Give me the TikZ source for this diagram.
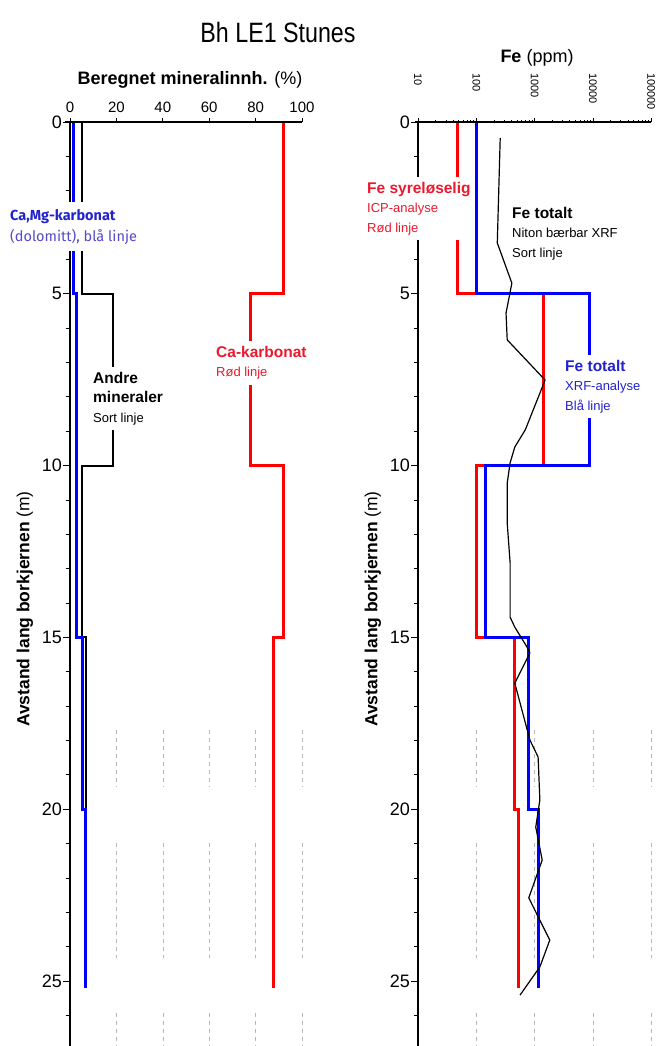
\documentclass[tikz,border=0pt]{standalone}
\usepackage{fontspec}
\setmainfont{Liberation Sans}
\newfontfamily\titlefont[FakeStretch=0.83]{Liberation Sans}
\newfontfamily\humfont{Fira Sans}
\newcommand\lblhd{\bfseries\fontsize{15.5}{19.5}\selectfont}
\definecolor{kurvred}{RGB}{255,0,0}
\definecolor{kurvblue}{RGB}{0,0,255}
\definecolor{txtred}{RGB}{235,25,45}
\definecolor{txtblue}{RGB}{35,35,205}
\definecolor{txtlblue}{RGB}{85,75,200}

\begin{document}
\begin{tikzpicture}[x=1pt,y=-1pt,
  redline/.style={kurvred,line width=3pt},
  blueline/.style={kurvblue,line width=3pt},
  blackline/.style={black,line width=2pt},
  nitonline/.style={black,line width=1.2pt,line join=round},
  axisline/.style={black,line width=1.3pt},
  gridline/.style={black!28,line width=.6pt,dash pattern=on 4pt off 4pt},
  depthlbl/.style={anchor=east,inner sep=0pt,font=\fontsize{18}{20}\selectfont},
  toplbl/.style={anchor=south,inner sep=0pt,font=\fontsize{15}{17}\selectfont},
  loglbl/.style={rotate=-90,anchor=west,inner sep=0pt,font=\fontsize{11}{13}\selectfont},
  lbl/.style={fill=white,align=left,anchor=north west,inner xsep=3pt,inner ysep=5pt,
    font=\fontsize{13}{19.5}\selectfont}
]
\useasboundingbox (0,0) rectangle (659,1046);

% venstre: mineralinnhold
\begin{scope}[shift={(70,122)},x=2.32pt,y=-34.36pt]
\foreach \p in {20,40,...,100}{
  \draw[gridline] (\p,17.7) -- (\p,19.35);
  \draw[gridline] (\p,20.98) -- (\p,24.33);
  \draw[gridline] (\p,25.93) -- (\p,26.9);
}
\draw[redline] (92,0) -- (92,5) -- (78,5) -- (78,10) -- (92,10) -- (92,15) -- (87.5,15) -- (87.5,25.2);
\draw[blackline] (5.2,0) -- (5.2,5) -- (18.5,5) -- (18.5,10) -- (5.2,10) -- (5.2,15) -- (7,15) -- (7,25.2);
\draw[blueline] (1.3,0) -- (1.3,5) -- (2.6,5) -- (2.6,15) -- (5.2,15) -- (5.2,20) -- (6.6,20) -- (6.6,25.2);
\draw[axisline] (-2,0) -- (100,0);
\draw[axisline] (0,0) -- (0,26.9);
\foreach \d in {1,...,26} \draw[line width=.8pt] (0,\d) -- ++(-4pt,0);
\foreach \d in {0,5,...,25}{
  \draw[line width=.8pt] (0,\d) -- ++(-7pt,0);
  \node[depthlbl] (vd\d) at ([xshift=-8pt]0,\d) {\d};
}
\foreach \p in {0,20,...,100}{
  \draw[line width=.8pt] (\p,0) -- ++(0,4pt);
  \node[toplbl] (vp\p) at ([yshift=9pt]\p,0) {\p};
}
\end{scope}

% hoyre: Fe (log)
\begin{scope}[shift={(418,122)},x=58.3pt,y=-34.36pt]
\foreach \e in {1,2,3,4}{
  \draw[gridline] (\e,17.7) -- (\e,19.35);
  \draw[gridline] (\e,20.98) -- (\e,24.33);
  \draw[gridline] (\e,25.93) -- (\e,26.9);
}
\draw[redline] (0.67,0) -- (0.67,5) -- (2.16,5) -- (2.16,10) -- (1,10) -- (1,15) -- (1.66,15) -- (1.66,20) -- (1.73,20) -- (1.73,25.2);
\draw[blueline] (1,0) -- (1,5) -- (2.95,5) -- (2.95,10) -- (1.15,10) -- (1.15,15) -- (1.9,15) -- (1.9,20) -- (2.06,20) -- (2.06,25.2);
\draw[nitonline] (1.41,0.47) -- (1.36,3.52) -- (1.61,4.69) -- (1.51,5.56) -- (1.53,6.34)
  -- (2.18,7.51) -- (1.84,8.96) -- (1.66,9.46) -- (1.58,9.92) -- (1.53,10.51)
  -- (1.53,11.67) -- (1.58,12.83) -- (1.58,14.41) -- (1.66,14.7) -- (1.87,15.28)
  -- (1.92,15.45) -- (1.66,16.33) -- (1.92,17.99) -- (2.06,18.48) -- (2.09,19.73)
  -- (2.02,20.52) -- (2.13,21.48) -- (1.9,22.58) -- (2.26,23.81) -- (2.09,24.59)
  -- (1.75,25.41);
\draw[axisline] (-0.05,0) -- (4,0);
\draw[axisline] (0,0) -- (0,26.9);
\foreach \d in {1,...,26} \draw[line width=.8pt] (0,\d) -- ++(-4pt,0);
\foreach \d in {0,5,...,25}{
  \draw[line width=.8pt] (0,\d) -- ++(-7pt,0);
  \node[depthlbl] (hd\d) at ([xshift=-8pt]0,\d) {\d};
}
\foreach \e in {0,1,2,3}
  \foreach \m in {2,...,9}
    \draw[line width=.6pt] ({\e+log10(\m)},0) -- ++(0,2pt);
\foreach \e/\v in {0/10,1/100,2/1000,3/10000,4/100000}{
  \draw[line width=.8pt] (\e,0) -- ++(0,4pt);
  \node[loglbl] (hp\e) at ([yshift=49pt]\e,0) {\v};
}
\end{scope}

% titler
\node[font=\titlefont\fontsize{28}{30}\selectfont] (tittel) at (278,32) {Bh LE1 Stunes};
\node[font=\fontsize{18}{20}\selectfont] (mintittel) at (190,80) {\textbf{Beregnet mineralinnh.} (\%)};
\node[font=\fontsize{18}{20}\selectfont] (fetittel) at (537,58) {\textbf{Fe} (ppm)};
\node[rotate=90,font=\fontsize{17.5}{20}\selectfont] (vdybde) at (25,609) {\textbf{Avstand lang borkjernen} (m)};
\node[rotate=90,font=\fontsize{17.5}{20}\selectfont] (hdybde) at (373,609) {\textbf{Avstand lang borkjernen} (m)};

% etiketter
\node[lbl,inner ysep=7pt,font=\humfont\fontsize{14.5}{21}\selectfont] (dolomitt) at (7,202)
  {\textcolor{txtblue}{\bfseries Ca,Mg-karbonat}\\\textcolor{txtlblue}{(dolomitt), blå linje}};
\node[lbl] (andre) at (90,367) {{\lblhd Andre}\\{\lblhd mineraler}\\Sort linje};
\node[lbl,text=txtred] (cakarb) at (213,341) {{\lblhd Ca-karbonat}\\Rød linje};
\node[lbl,text=txtred] (syrelos) at (364,177) {{\lblhd Fe syreløselig}\\ICP-analyse\\Rød linje};
\node[lbl] (niton) at (509,202) {{\lblhd Fe totalt}\\Niton bærbar XRF\\Sort linje};
\node[lbl,text=txtblue] (xrf) at (562,355) {{\lblhd Fe totalt}\\XRF-analyse\\Blå linje};
\end{tikzpicture}
\end{document}
